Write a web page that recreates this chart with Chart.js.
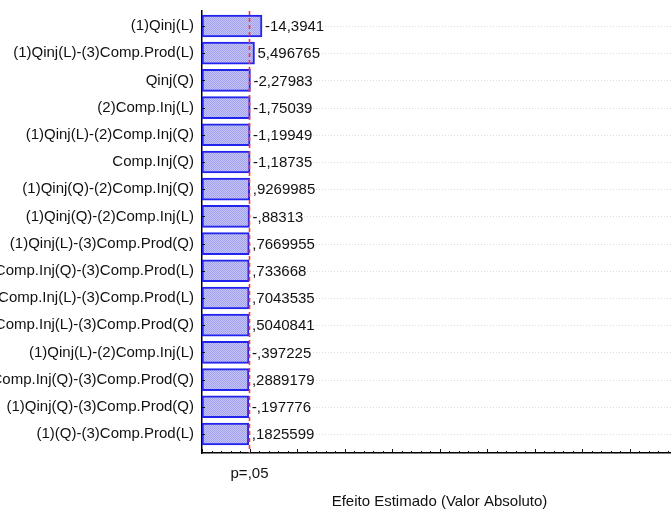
<!DOCTYPE html>
<html>
<head>
<meta charset="utf-8">
<script src="https://cdn.jsdelivr.net/npm/chart.js@4"></script>
<style>
  html, body { margin: 0; padding: 0; background: #fff; overflow: hidden; }
  canvas { display: block; }
</style>
</head>
<body>
<canvas id="pareto" width="677" height="511"></canvas>
<script>
// fatores (eixo vertical)
const factorLabels = [
  '(1)Qinj(L)',
  '(1)Qinj(L)-(3)Comp.Prod(L)',
  'Qinj(Q)',
  '(2)Comp.Inj(L)',
  '(1)Qinj(L)-(2)Comp.Inj(Q)',
  'Comp.Inj(Q)',
  '(1)Qinj(Q)-(2)Comp.Inj(Q)',
  '(1)Qinj(Q)-(2)Comp.Inj(L)',
  '(1)Qinj(L)-(3)Comp.Prod(Q)',
  '(2)Comp.Inj(Q)-(3)Comp.Prod(L)',
  '(2)Comp.Inj(L)-(3)Comp.Prod(L)',
  '(2)Comp.Inj(L)-(3)Comp.Prod(Q)',
  '(1)Qinj(L)-(2)Comp.Inj(L)',
  '(2)Comp.Inj(Q)-(3)Comp.Prod(Q)',
  '(1)Qinj(Q)-(3)Comp.Prod(Q)',
  '(1)(Q)-(3)Comp.Prod(L)'
];

// valores impressos ao lado das barras
const effectLabels = [
  '-14,3941', '5,496765', '-2,27983', '-1,75039', '-1,19949', '-1,18735',
  ',9269985', '-,88313', ',7669955', ',733668', ',7043535', ',5040841',
  '-,397225', ',2889179', '-,197776', ',1825599'
];

// comprimento das barras (unidade = linha p=,05)
const barLengths = [
  1.263, 1.105, 1.02, 1.015, 1.012, 1.012, 1.005, 1.0,
  0.995, 0.993, 0.992, 0.99, 0.99, 0.988, 0.986, 0.985
];

const pLimit = 1;
const pLabel = 'p=,05';
const xTitle = 'Efeito Estimado (Valor Absoluto)';

const font = '"Liberation Sans", Arial, sans-serif';

// textura hachurada das barras
function hatch() {
  const c = document.createElement('canvas');
  c.width = 2; c.height = 2;
  const g = c.getContext('2d');
  g.fillStyle = '#c4c4f6';
  g.fillRect(0, 0, 2, 2);
  g.fillStyle = '#a2a2ec';
  g.fillRect(0, 0, 1, 1);
  g.fillRect(1, 1, 1, 1);
  return g.createPattern(c, 'repeat');
}

const extras = {
  id: 'extras',
  beforeDatasetsDraw(chart) {
    const { ctx, chartArea, scales: { y } } = chart;
    ctx.save();
    ctx.strokeStyle = '#dcdcdc';
    ctx.lineWidth = 1;
    ctx.setLineDash([1, 2]);
    factorLabels.forEach((_, i) => {
      const py = Math.round(y.getPixelForValue(i)) + 0.5;
      ctx.beginPath();
      ctx.moveTo(chartArea.left, py);
      ctx.lineTo(chartArea.right, py);
      ctx.stroke();
    });
    ctx.restore();
  },
  afterDatasetsDraw(chart) {
    const { ctx, chartArea, scales: { x } } = chart;
    // linha p=,05
    const px = x.getPixelForValue(pLimit);
    ctx.save();
    ctx.strokeStyle = '#ff3535';
    ctx.lineWidth = 1.6;
    ctx.setLineDash([4, 3]);
    ctx.beginPath();
    ctx.moveTo(px, chartArea.top);
    ctx.lineTo(px, chartArea.bottom);
    ctx.stroke();
    ctx.restore();

    // rótulos de valor
    const meta = chart.getDatasetMeta(0);
    ctx.save();
    ctx.fillStyle = '#111';
    ctx.font = '15px ' + font;
    ctx.textAlign = 'left';
    ctx.textBaseline = 'middle';
    meta.data.forEach((bar, i) => {
      ctx.fillText(effectLabels[i], bar.x + 3, bar.y + 1);
    });
    ctx.restore();
  },
  afterDraw(chart) {
    const { ctx, chartArea, scales: { x, y } } = chart;
    ctx.save();
    ctx.strokeStyle = '#111';
    ctx.lineWidth = 1;
    // marcas internas do eixo x
    x.ticks.forEach(t => {
      const px = Math.round(x.getPixelForValue(t.value)) + 0.5;
      const major = Math.abs(t.value - Math.round(t.value)) < 1e-6;
      ctx.beginPath();
      ctx.moveTo(px, chartArea.bottom);
      ctx.lineTo(px, chartArea.bottom - (major ? 4 : 2));
      ctx.stroke();
    });
    // marcas internas do eixo y
    factorLabels.forEach((_, i) => {
      const py = Math.round(y.getPixelForValue(i)) + 0.5;
      ctx.beginPath();
      ctx.moveTo(chartArea.left, py);
      ctx.lineTo(chartArea.left + 3, py);
      ctx.stroke();
    });
    ctx.restore();
  }
};

const ctx = document.getElementById('pareto').getContext('2d');
new Chart(ctx, {
  type: 'bar',
  data: {
    datasets: [{
      data: barLengths.map((v, i) => ({ x: v, y: i })),
      backgroundColor: hatch(),
      borderColor: '#2323ee',
      borderWidth: 2,
      borderSkipped: false,
      barThickness: 22
    }]
  },
  options: {
    indexAxis: 'y',
    responsive: false,
    animation: false,
    events: [],
    layout: { padding: { top: 11, left: 0, right: 0, bottom: 0 } },
    plugins: { legend: { display: false }, tooltip: { enabled: false } },
    scales: {
      y: {
        type: 'linear',
        reverse: true,
        offset: false,
        min: -0.551,
        max: 15.699,
        afterBuildTicks: s => { s.ticks = factorLabels.map((_, i) => ({ value: i })); },
        afterFit: s => { s.width = 202; s.paddingTop = 0; s.paddingBottom = 0; },
        grid: { display: false, drawTicks: false, offset: false },
        border: { display: true, color: '#000', width: 1.5 },
        ticks: {
          autoSkip: false,
          padding: 8,
          color: '#111',
          font: { family: font, size: 15 },
          callback: v => factorLabels[v]
        }
      },
      x: {
        type: 'linear',
        min: 0,
        max: 10,
        afterFit: s => { s.height = 58; s.paddingLeft = 0; s.paddingRight = 0; },
        grid: { display: false, drawTicks: false },
        border: { display: true, color: '#000', width: 1.5 },
        ticks: {
          stepSize: 0.2,
          autoSkip: false,
          maxRotation: 0,
          padding: 12,
          color: '#111',
          font: { family: font, size: 15 },
          callback: v => (Math.abs(v - pLimit) < 1e-6 ? pLabel : '')
        },
        title: {
          display: true,
          text: xTitle,
          color: '#111',
          padding: { top: 0, bottom: 0 },
          font: { family: font, size: 15 }
        }
      }
    }
  },
  plugins: [extras]
});
</script>
</body>
</html>
